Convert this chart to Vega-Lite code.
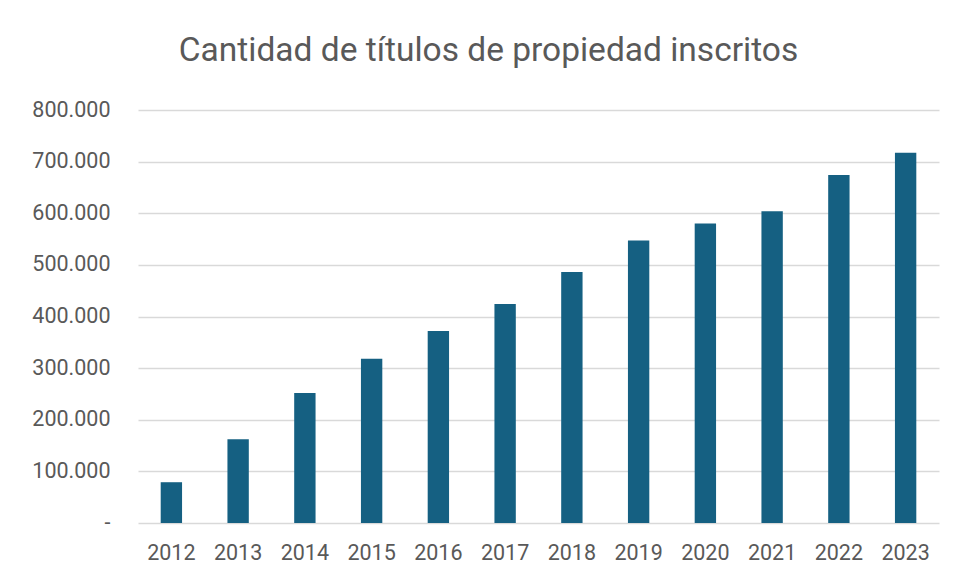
{
  "$schema": "https://vega.github.io/schema/vega-lite/v6.json",
  "autosize": {"type": "none"},
  "width": 801,
  "height": 413,
  "padding": {"left": 138, "top": 110, "right": 15, "bottom": 58},
  "background": "white",
  "config": {
    "locale": {"number": {"decimal": ",", "thousands": ".", "grouping": [3], "currency": ["$", ""]}},
    "view": {"stroke": null},
    "font": "Roboto"
  },
  "title": {
    "text": "Cantidad de títulos de propiedad inscritos",
    "fontSize": 33.5,
    "fontWeight": "normal",
    "color": "#595959",
    "font": "Roboto",
    "anchor": "middle",
    "dx": -50,
    "offset": 31
  },
  "data": {
    "values": [
      {"year": "2012", "value": 79000},
      {"year": "2013", "value": 162000},
      {"year": "2014", "value": 252000},
      {"year": "2015", "value": 318000},
      {"year": "2016", "value": 372000},
      {"year": "2017", "value": 424000},
      {"year": "2018", "value": 486000},
      {"year": "2019", "value": 547000},
      {"year": "2020", "value": 580000},
      {"year": "2021", "value": 604000},
      {"year": "2022", "value": 674000},
      {"year": "2023", "value": 717000}
    ]
  },
  "mark": {"type": "bar", "color": "#156082"},
  "encoding": {
    "x": {
      "field": "year",
      "type": "nominal",
      "scale": {"paddingInner": 0.68, "paddingOuter": 0.34},
      "axis": {
        "title": null,
        "labelAngle": 0,
        "labelFontSize": 21.5,
        "labelColor": "#595959",
        "labelPadding": 19,
        "domain": false,
        "ticks": false
      }
    },
    "y": {
      "field": "value",
      "type": "quantitative",
      "scale": {"domain": [0, 800000], "nice": false},
      "axis": {
        "title": null,
        "values": [0, 100000, 200000, 300000, 400000, 500000, 600000, 700000, 800000],
        "labelExpr": "datum.value == 0 ? '-\u2007' : format(datum.value, ',d')",
        "labelFontSize": 21.5,
        "labelColor": "#595959",
        "labelPadding": 28,
        "domain": false,
        "ticks": false,
        "grid": true,
        "gridColor": "#d9d9d9",
        "gridWidth": 1.5
      }
    }
  }
}
